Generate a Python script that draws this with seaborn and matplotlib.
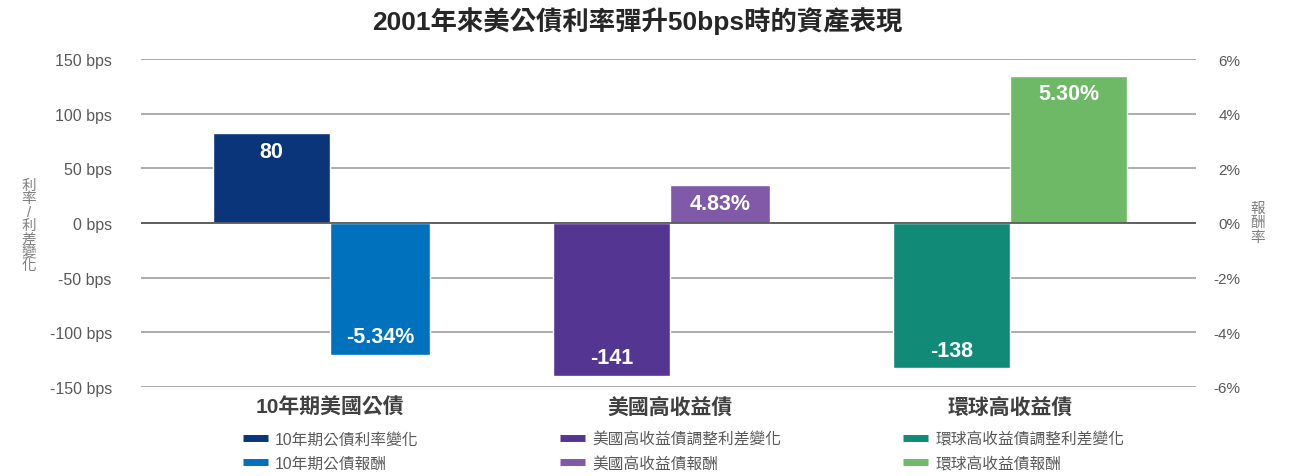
import numpy as np
import matplotlib
matplotlib.use("Agg")
import matplotlib.pyplot as plt
from matplotlib.lines import Line2D
import seaborn as sns

# --- data (bar heights, labels as printed) ---
groups = ["10年期美國公債", "美國高收益債", "環球高收益債"]
spread_bps = [82.5, -140.2, -133.0]
return_pct = [-4.83, 1.39, 5.39]
spread_labels = ["80", "-141", "-138"]
return_labels = ["-5.34%", "4.83%", "5.30%"]
spread_names = ["10年期公債利率變化", "美國高收益債調整利差變化", "環球高收益債調整利差變化"]
return_names = ["10年期公債報酬", "美國高收益債報酬", "環球高收益債報酬"]
left_ticks = [-150, -100, -50, 0, 50, 100, 150]
right_ticks = [-6, -4, -2, 0, 2, 4, 6]

spread_colors = ["#0B357A", "#553592", "#118A77"]
return_colors = ["#0071BC", "#8059A8", "#6EB965"]
return_widths = [0.294, 0.294, 0.344]
spread_width = 0.344
legend_x = [243, 560, 903]  # pixel x of each legend column

sns.set_theme(style="white")
plt.rcParams["font.family"] = ["Liberation Sans", "Noto Sans CJK TC", "DejaVu Sans"]

fig = plt.figure(figsize=(13.02, 4.77), dpi=100)
ax = fig.add_axes([0.1083, 0.1872, 0.8103, 0.6864])
ax2 = ax.twinx()

x = np.arange(len(groups))
grey = "#595959"

# spread bars (left axis), sitting left of each category center
bars1 = ax.bar(x, spread_bps, width=-spread_width, align="edge",
               color=spread_colors, zorder=3)
# return bars (right axis), sitting right of each category center
bars2 = ax2.bar(x, return_pct, width=return_widths, align="edge",
                color=return_colors, zorder=3)

ax.set_ylim(-150, 150)
ax2.set_ylim(-6, 6)
ax.set_xlim(-0.556, 2.547)

for yv in left_ticks:
    ax.axhline(yv, color="#A6A6A6", lw=1.3, zorder=1)
ax2.axhline(0, color=grey, lw=1.3, zorder=5)

ax.set_yticks(left_ticks)
ax.set_yticklabels([f"{v} bps" for v in left_ticks])
ax2.set_yticks(right_ticks)
ax2.set_yticklabels([f"{v}%" for v in right_ticks])
ax.tick_params(axis="y", length=0, pad=21, labelsize=11.5, labelcolor=grey)
ax2.tick_params(axis="y", length=0, pad=32, labelsize=11, labelcolor=grey)
for t in ax2.get_yticklabels():
    t.set_horizontalalignment("right")

ax.set_xticks(x)
ax.set_xticklabels(groups, fontsize=15, fontweight="bold", color="#404040")
ax.tick_params(axis="x", length=0, pad=7)

for a in (ax, ax2):
    for s in a.spines.values():
        s.set_visible(False)
    a.grid(False)

# value labels inside bar ends
def label_bars(a, bars, labels):
    for b, txt in zip(bars, labels):
        h = b.get_height()
        xc = b.get_x() + b.get_width() / 2
        off = -13 if h > 0 else 13
        a.annotate(txt, (xc, h), xytext=(0, off), textcoords="offset points",
                   ha="center", va="center", color="white",
                   fontsize=15.5, fontweight="bold", zorder=6)

label_bars(ax, bars1, spread_labels)
label_bars(ax2, bars2, return_labels)

# stacked vertical axis titles
fig.text(29 / 1302, 1 - 226 / 477, "\n".join("利率/利差變化"), ha="center",
         va="center", fontsize=10.5, color="#7F7F7F", linespacing=0.95)
fig.text(1258 / 1302, 1 - 223 / 477, "\n".join("報酬率"), ha="center",
         va="center", fontsize=10.5, color="#7F7F7F", linespacing=1.05)

fig.suptitle("2001年來美公債利率彈升50bps時的資產表現", x=637 / 1302, y=1 - 21 / 477,
             va="center", fontsize=19, fontweight="bold", color="#262626")

# legend: one small legend per group, each a column of two entries
for c1, n1, c2, n2, lx in zip(spread_colors, spread_names, return_colors,
                              return_names, legend_x):
    handles = [Line2D([], [], color=c1, lw=5, solid_capstyle="butt"),
               Line2D([], [], color=c2, lw=5, solid_capstyle="butt")]
    leg = fig.legend(handles, [n1, n2], loc="center left",
                     bbox_to_anchor=(lx / 1302, 1 - 452 / 477), frameon=False,
                     fontsize=11.3, handlelength=1.6, handletextpad=0.45,
                     labelspacing=0.55, borderpad=0, borderaxespad=0)
    for t in leg.get_texts():
        t.set_color(grey)

fig.savefig("out.png", dpi=100)
